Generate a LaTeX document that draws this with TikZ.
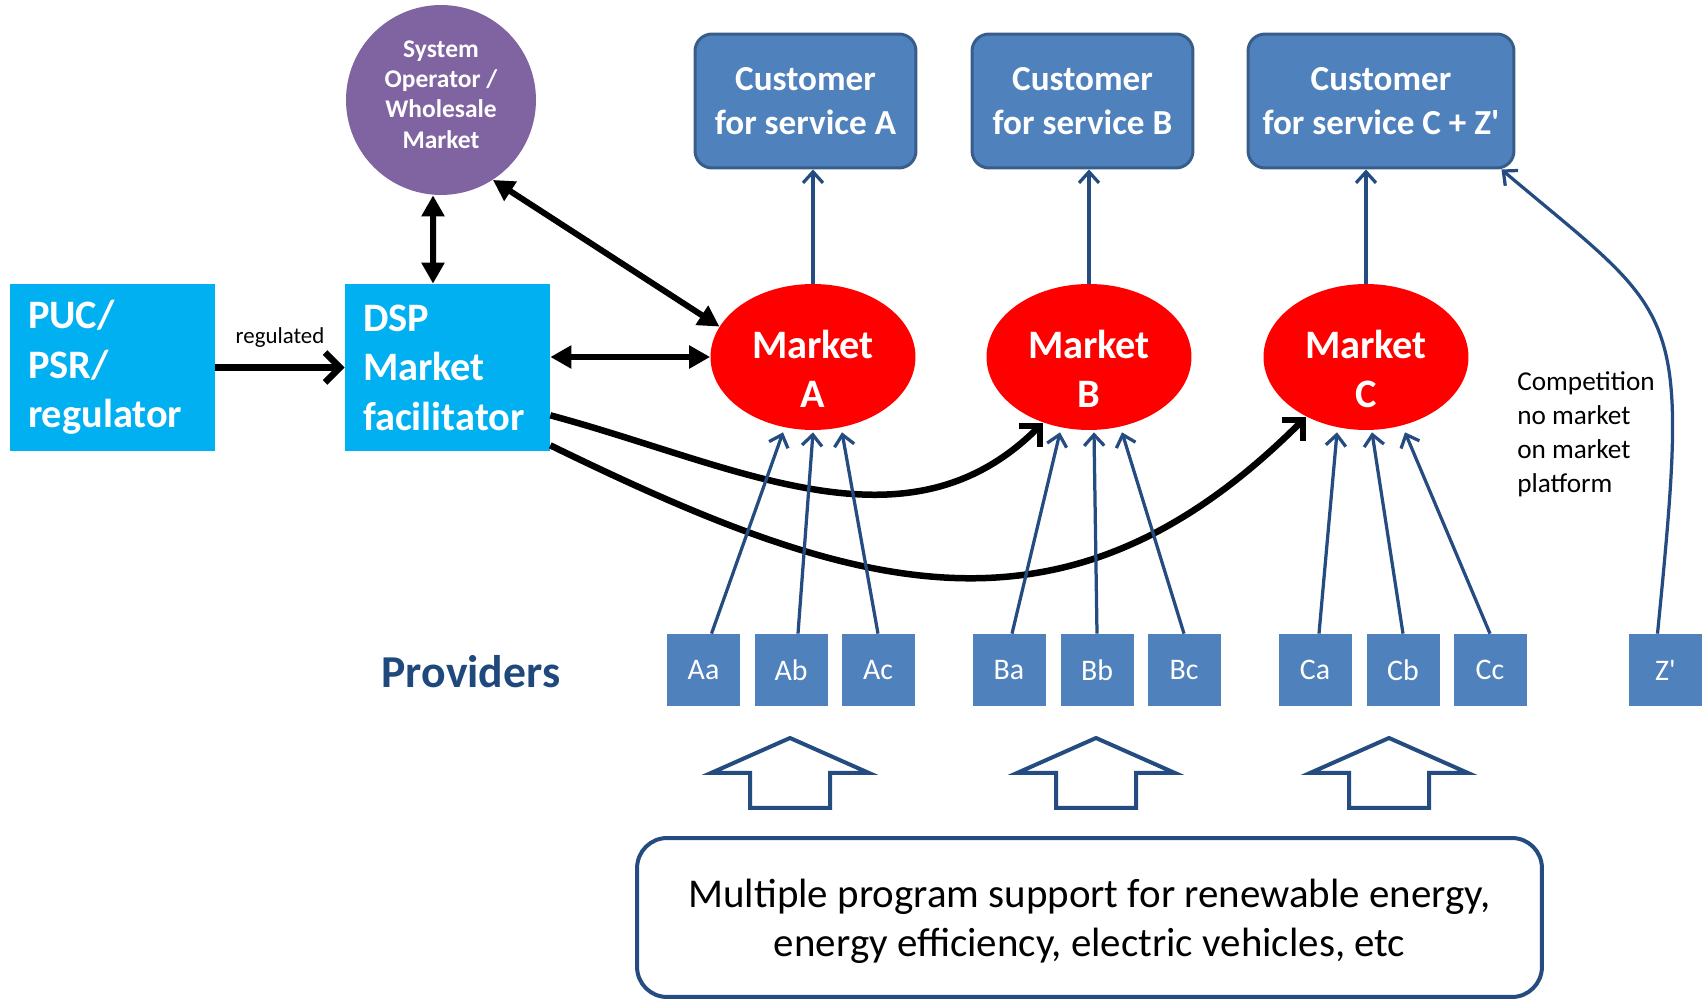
\documentclass[tikz,border=0pt]{standalone}
\usepackage{fontspec}
\setmainfont{Carlito}
\usepackage{tikz}
\usetikzlibrary{arrows.meta, shapes.geometric, calc}

\definecolor{dspcyan}{HTML}{00B0F0}
\definecolor{sopurple}{HTML}{8064A2}
\definecolor{custblue}{HTML}{4F81BD}
\definecolor{custedge}{HTML}{385D8A}
\definecolor{linkblue}{RGB}{37,76,128}
\definecolor{provtext}{HTML}{1F497D}

\begin{document}
\begin{tikzpicture} [x = 0.02cm, y = -0.02cm,
  bigbox/.style = {rectangle, fill = dspcyan, text = white, font = \bfseries\fontsize{23}{28.2}\selectfont, align = left, text width = 3.38cm, inner xsep = 0.36cm, minimum height = 3.34cm},
  custbox/.style = {rectangle, rounded corners = 0.34cm, fill = custblue, draw = custedge, line width = 0.06cm, text = white, font = \bfseries\fontsize{20}{24.8}\selectfont, align = center, minimum height = 2.68cm},
  mkt/.style = {ellipse, fill = red, inner sep = 0pt, minimum width = 4.1cm, minimum height = 2.92cm},
  mkttext/.style = {text = white, font = \bfseries\fontsize{23}{27.9}\selectfont, align = center, yshift = -0.23cm},
  sotext/.style = {text = white, font = \bfseries\fontsize{14.5}{17.3}\selectfont, align = center, yshift = 0.11cm},
  prov/.style = {rectangle, fill = custblue, text = white, font = \fontsize{17}{20}\selectfont, minimum width = 1.46cm, minimum height = 1.44cm, inner sep = 0pt},
  bigarr/.style = {line width = 0.13cm, -{Straight Barb[length = 0.3cm, width = 0.6cm]}},
  dblarr/.style = {line width = 0.12cm, {Triangle[length = 0.42cm, width = 0.44cm]}-{Triangle[length = 0.42cm, width = 0.44cm]}},
  linkarr/.style = {draw = linkblue, line width = 0.065cm, -{Straight Barb[length = 0.22cm, width = 0.4cm]}},
  blockarr/.style = {draw = linkblue, line width = 0.08cm, fill = white}]
\useasboundingbox (0,0) rectangle (1708,999);

\node[bigbox] (puc) at (112.5, 367.5) {PUC/\\PSR/\\regulator};
\node[bigbox] (dsp) at (447.5, 367.5) {DSP\\Market\\facilitator};
\node[circle, fill = sopurple, minimum size = 3.8cm, inner sep = 0pt, label = {[sotext]center:System\\Operator /\\Wholesale\\Market}] (so) at (441, 100) {};

\node[custbox, minimum width = 4.42cm] (cA) at (805.5, 101) {Customer\\for service A};
\node[custbox, minimum width = 4.42cm] (cB) at (1082.5, 101) {Customer\\for service B};
\node[custbox, minimum width = 5.32cm] (cC) at (1381, 101) {Customer\\for service C + Z\textquotesingle};

\node[mkt, label = {[mkttext]center:Market\\A}] (mA) at (813, 357) {};
\node[mkt, label = {[mkttext]center:Market\\B}] (mB) at (1089, 357) {};
\node[mkt, label = {[mkttext]center:Market\\C}] (mC) at (1366, 357) {};

\node[font = \bfseries\fontsize{26}{30}\selectfont, text = provtext] (prv) at (471, 672) {Providers};
\node[prov] (aa) at (703.5, 670) {Aa};
\node[prov] (ab) at (791, 670) {Ab};
\node[prov] (ac) at (878, 670) {Ac};
\node[prov] (ba) at (1009, 670) {Ba};
\node[prov] (bb) at (1097, 670) {Bb};
\node[prov] (bc) at (1184, 670) {Bc};
\node[prov] (ca) at (1315, 670) {Ca};
\node[prov] (cb) at (1403, 670) {Cb};
\node[prov] (cc) at (1490, 670) {Cc};
\node[prov] (zp) at (1665.5, 670) {Z\textquotesingle};

\node[align = left, anchor = west, inner sep = 0pt, font = \fontsize{15.5}{19.3}\selectfont] (comp) at (1517, 434) {Competition\\no market\\on market\\platform};

\node[rectangle, rounded corners = 0.6cm, draw = linkblue, line width = 0.08cm, align = center, font = \fontsize{23.3}{27.8}\selectfont, minimum width = 18.1cm, minimum height = 3.18cm, text depth = 0pt] (prog) at (1089.5, 917.5) {Multiple program support for renewable energy,\\energy efficiency, electric vehicles, etc};

\draw[blockarr] (790, 738) -- ++(79, 35) -- ++(-39, 0) -- ++(0, 35) -- ++(-80, 0) -- ++(0, -35) -- ++(-39, 0) -- cycle;
\draw[blockarr] (1096, 738) -- ++(79, 35) -- ++(-39, 0) -- ++(0, 35) -- ++(-80, 0) -- ++(0, -35) -- ++(-39, 0) -- cycle;
\draw[blockarr] (1389, 738) -- ++(79, 35) -- ++(-39, 0) -- ++(0, 35) -- ++(-80, 0) -- ++(0, -35) -- ++(-39, 0) -- cycle;

\draw[bigarr] (puc) -- (dsp) node[above = 0.22cm, midway, font = \fontsize{13}{15}\selectfont] (reg) {regulated};
\draw[dblarr] ([xshift = -0.16cm]so.south) -- ([xshift = -0.29cm]dsp.north);
\draw[dblarr] (so.-57) -- (mA.162);
\draw[dblarr] (dsp.east |- mA.west) -- (mA.west);
\draw[bigarr] ($(dsp.south east)+(0,-36)$) to[out = -15, in = -135] (mB.-125);
\draw[bigarr] ($(dsp.south east)+(0,-6)$) to[out = -26, in = -135, looseness = 1.15] (mC.-135);

\draw[linkarr] (mA.north) -- (mA.north |- cA.south);
\draw[linkarr] (mB.north) -- (mB.north |- cB.south);
\draw[linkarr] (mC.north) -- (mC.north |- cC.south);

\draw[linkarr] ([xshift = 0.16cm]aa.north) -- ($(mA.south)+(-30,2)$);
\draw[linkarr] ([xshift = 0.14cm]ab.north) -- ($(mA.south)+(0,2)$);
\draw[linkarr] (ac.north) -- ($(mA.south)+(29,2)$);
\draw[linkarr] ([xshift = 0.06cm]ba.north) -- ($(mB.south)+(-29,2)$);
\draw[linkarr] (bb.north) -- ($(mB.south)+(5,2)$);
\draw[linkarr] (bc.north) -- ($(mB.south)+(33,2)$);
\draw[linkarr] ([xshift = 0.08cm]ca.north) -- ($(mC.south)+(-29,2)$);
\draw[linkarr] (cb.north) -- ($(mC.south)+(6,2)$);
\draw[linkarr] (cc.north) -- ($(mC.south)+(39,2)$);
\draw[linkarr] ([xshift = -0.16cm]zp.north) .. controls +(33,-334) and +(180,152) .. ([xshift = -0.28cm]cC.south east);
\end{tikzpicture}
\end{document}
